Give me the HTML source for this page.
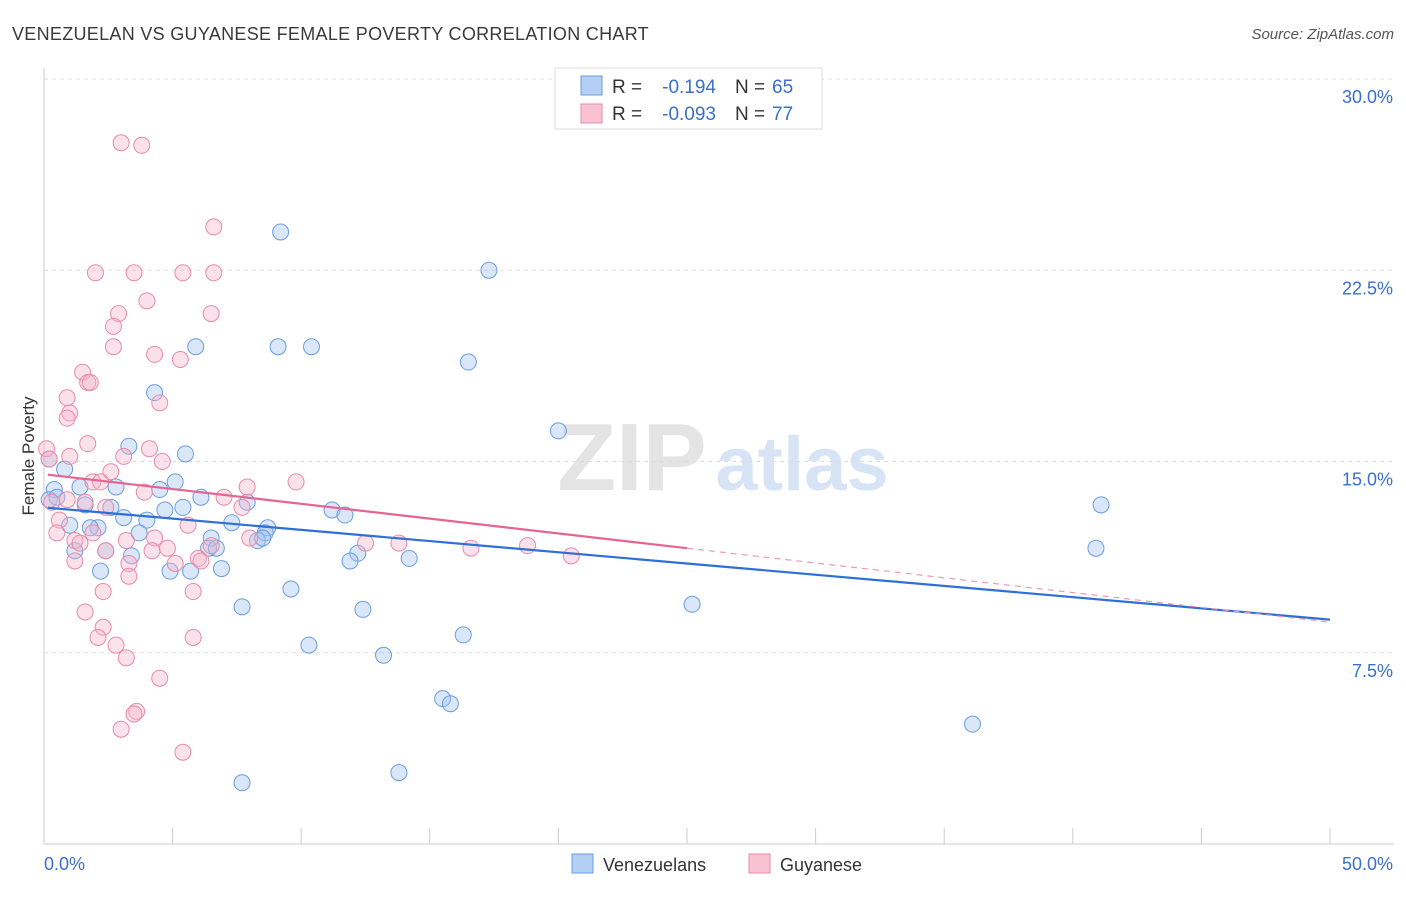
<!DOCTYPE html>
<html><head><meta charset="utf-8">
<style>
body{margin:0;background:#fff;font-family:"Liberation Sans",sans-serif;}
svg text{font-family:"Liberation Sans",sans-serif;}
</style></head>
<body>
<svg id="chart" width="1406" height="892" xmlns="http://www.w3.org/2000/svg">
<text x="12" y="40" font-size="18" fill="#3a3a3a" letter-spacing="0.3">VENEZUELAN VS GUYANESE FEMALE POVERTY CORRELATION CHART</text>
<text x="1394" y="39" font-size="15" fill="#555" font-style="italic" text-anchor="end">Source: ZipAtlas.com</text>
<g>
<text x="632" y="490" font-size="96" font-family="Liberation Serif" fill="#e4e4e4" text-anchor="middle" font-weight="bold">ZIP</text>
<text x="802" y="490" font-size="76" fill="#d6e4f5" text-anchor="middle" font-weight="bold">atlas</text>
</g>
<g id="grid"></g>
<g id="axes"></g>
<g id="pts"></g>
<g id="trend"></g>
<text transform="translate(34,456) rotate(-90)" font-size="17" fill="#333" text-anchor="middle">Female Poverty</text>
<g>
<rect x="555" y="68" width="267" height="61" fill="#fff" stroke="#ddd"/>
<rect x="581" y="76" width="21" height="19" fill="#b3cff3" stroke="#6b9de0"/>
<rect x="581" y="104" width="21" height="19" fill="#f8c2d3" stroke="#e98aa8"/>
<text x="612" y="93" font-size="19" fill="#333">R =</text>
<text x="716" y="93" font-size="19" fill="#3a6fd0" text-anchor="end">-0.194</text>
<text x="735" y="93" font-size="19" fill="#333">N =</text>
<text x="772" y="93" font-size="19" fill="#3a6fd0">65</text>
<text x="612" y="120" font-size="19" fill="#333">R =</text>
<text x="716" y="120" font-size="19" fill="#3a6fd0" text-anchor="end">-0.093</text>
<text x="735" y="120" font-size="19" fill="#333">N =</text>
<text x="772" y="120" font-size="19" fill="#3a6fd0">77</text>
</g>
<g>
<rect x="572" y="854" width="21" height="19" fill="#b3cff3" stroke="#6b9de0"/>
<text x="603" y="871" font-size="18" fill="#333">Venezuelans</text>
<rect x="749" y="854" width="21" height="19" fill="#f8c2d3" stroke="#e98aa8"/>
<text x="780" y="871" font-size="18" fill="#333">Guyanese</text>
</g>
</svg>
<script>
const yTicks=[7.5,15,22.5,30];
const yTickLabels=["7.5%","15.0%","22.5%","30.0%"];
const xTicks=[0,5,10,15,20,25,30,35,40,45,50];
const blueX=[9.2,17.3,5.9,9.1,10.4,16.5,4.3,20.0,3.3,5.5,0.8,0.4,1.4,2.8,5.1,4.5,6.1,7.9,1.6,2.6,5.4,11.2,11.7,41.1,2.1,3.1,4.0,4.7,7.3,1.0,1.8,3.7,8.7,8.6,6.5,8.3,8.5,2.4,1.2,6.4,6.7,12.2,11.9,14.2,40.9,3.4,2.2,4.9,5.7,6.9,9.6,7.7,12.4,25.2,16.3,10.3,13.2,15.5,15.8,36.1,13.8,7.7,0.2,0.2,0.5];
const blueY=[24.0,22.5,19.5,19.5,19.5,18.9,17.7,16.2,15.6,15.3,14.7,13.9,14.0,14.0,14.2,13.9,13.6,13.4,13.3,13.2,13.2,13.1,12.9,13.3,12.4,12.8,12.7,13.1,12.6,12.5,12.4,12.2,12.4,12.2,12.0,11.9,12.0,11.5,11.5,11.6,11.6,11.4,11.1,11.2,11.6,11.3,10.7,10.7,10.7,10.8,10.0,9.3,9.2,9.4,8.2,7.8,7.4,5.7,5.5,4.7,2.8,2.4,15.1,13.5,13.6];
const pinkX=[3.0,3.8,6.6,2.0,3.5,5.4,6.6,4.0,2.9,6.5,2.7,2.7,4.3,5.3,1.5,1.7,1.8,0.9,4.5,1.0,0.9,1.7,4.1,1.0,3.1,4.6,0.1,0.2,2.6,1.9,2.2,7.9,9.8,3.9,7.0,0.9,1.6,0.3,2.4,7.7,0.6,5.6,1.9,0.5,1.2,3.2,4.3,8.0,1.4,2.4,4.2,4.8,12.5,13.8,16.6,18.8,20.5,6.5,6.0,1.2,3.3,5.1,6.1,3.3,2.3,5.8,1.6,2.3,2.1,5.8,2.8,3.2,4.5,3.6,3.5,3.0,5.4];
const pinkY=[27.5,27.4,24.2,22.4,22.4,22.4,22.4,21.3,20.8,20.8,20.3,19.5,19.2,19.0,18.5,18.1,18.1,17.5,17.3,16.9,16.7,15.7,15.5,15.2,15.2,15.0,15.5,15.1,14.6,14.2,14.2,14.0,14.2,13.8,13.6,13.5,13.4,13.4,13.2,13.2,12.7,12.5,12.2,12.2,11.9,11.9,12.0,12.0,11.8,11.5,11.5,11.6,11.8,11.8,11.6,11.7,11.3,11.7,11.2,11.1,11.0,11.0,11.1,10.5,9.9,9.9,9.1,8.5,8.1,8.1,7.8,7.3,6.5,5.2,5.1,4.5,3.6];
const blueTrend=[13.2,-0.088];
const pinkTrend=[14.5,-0.116];
const NS="http://www.w3.org/2000/svg";
const X=v=>44+v*25.72, Y=v=>844-v*25.5;
function mk(t,a,p){const e=document.createElementNS(NS,t);for(const k in a)e.setAttribute(k,a[k]);p.appendChild(e);return e;}
const grid=document.getElementById('grid'),axes=document.getElementById('axes'),pts=document.getElementById('pts'),trend=document.getElementById('trend');
yTicks.forEach((v,i)=>{
 const l=mk('line',{x1:44,x2:1394,y1:Y(v),y2:Y(v),stroke:'#ddd','stroke-dasharray':'4,4'},grid);
 
 
 const t=mk('text',{x:1393,y:Y(v)+24,'font-size':18,fill:'#3a6fd0','text-anchor':'end'},axes);
 t.textContent=yTickLabels[i];
 
 
});
mk('line',{x1:44,x2:44,y1:68,y2:844,stroke:'#ccc'},axes);
mk('line',{x1:44,x2:1394,y1:844,y2:844,stroke:'#ccc'},axes);
xTicks.forEach(v=>{const l=mk('line',{x1:X(v),x2:X(v),y1:828,y2:844,stroke:'#ccc'},axes);
 
 });
const t0=mk('text',{x:44,y:870,'font-size':18,fill:'#3a6fd0'},axes);t0.textContent='0.0%';


const t1=mk('text',{x:1393,y:870,'font-size':18,fill:'#3a6fd0','text-anchor':'end'},axes);t1.textContent='50.0%';


blueX.forEach((x,i)=>{const c=mk('circle',{cx:X(x),cy:Y(blueY[i]),r:8,fill:'rgba(160,195,240,0.4)',stroke:'#6b9de0','stroke-width':1},pts);
 
 });
pinkX.forEach((x,i)=>{const c=mk('circle',{cx:X(x),cy:Y(pinkY[i]),r:8,fill:'rgba(246,180,202,0.4)',stroke:'#e98aa8','stroke-width':1},pts);
 
 });
const bl=mk('line',{x1:X(0.15),y1:Y(blueTrend[0]+blueTrend[1]*0.15),x2:X(50),y2:Y(blueTrend[0]+blueTrend[1]*50),stroke:'#2f6fd6','stroke-width':2.2},trend);


const pl=mk('line',{x1:X(0.15),y1:Y(pinkTrend[0]+pinkTrend[1]*0.15),x2:X(25),y2:Y(pinkTrend[0]+pinkTrend[1]*25),stroke:'#e46592','stroke-width':2.2},trend);


const pd=mk('line',{x1:X(25),y1:Y(pinkTrend[0]+pinkTrend[1]*25),x2:X(50),y2:Y(pinkTrend[0]+pinkTrend[1]*50),stroke:'#e99ab5','stroke-width':1.2,'stroke-dasharray':'6,5'},trend);


</script>
</body></html>
